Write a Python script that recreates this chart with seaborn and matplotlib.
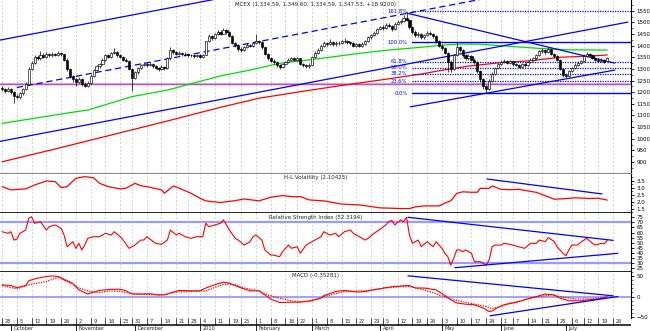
import numpy as np
import pandas as pd
import matplotlib
matplotlib.use("Agg")
import matplotlib.pyplot as plt
import seaborn as sns

sns.set_theme(style="white", context="paper")
plt.rcParams["font.family"] = ["DejaVu Sans"]

# ---------------- trading calendar ----------------
holidays = pd.to_datetime(["2009-11-26", "2009-12-25", "2010-01-01", "2010-01-18",
                           "2010-02-15", "2010-04-02", "2010-05-31", "2010-07-05"])
calendar = pd.bdate_range("2009-09-28", "2010-07-30")
calendar = calendar[~calendar.isin(holidays)]

# ---------------- daily OHLC ----------------
opens = [
    1218, 1212, 1205, 1215, 1200, 1185, 1178, 1195, 1215, 1235,
    1300, 1325, 1350, 1345, 1360, 1352, 1365, 1358, 1366, 1360,
    1368, 1362, 1340, 1300, 1268, 1255, 1245, 1258, 1235, 1228,
    1240, 1270, 1295, 1312, 1320, 1340, 1358, 1350, 1368, 1372,
    1358, 1352, 1340, 1336, 1300, 1262, 1285, 1305, 1316, 1322,
    1318, 1322, 1312, 1305, 1298, 1310, 1302, 1345, 1382, 1372,
    1366, 1370, 1362, 1366, 1358, 1360, 1354, 1358, 1350, 1360,
    1418, 1440, 1432, 1448, 1460, 1452, 1466, 1458, 1440, 1412,
    1402, 1386, 1380, 1395, 1404, 1398, 1410, 1420, 1414, 1392,
    1366, 1346, 1336, 1330, 1318, 1310, 1320, 1330, 1340, 1346,
    1338, 1345, 1322, 1315, 1312, 1318, 1350, 1370, 1382, 1400,
    1410, 1406, 1415, 1405, 1412, 1410, 1418, 1420, 1414, 1410,
    1400, 1405, 1400, 1408, 1420, 1435, 1445, 1455, 1470, 1480,
    1475, 1490, 1485, 1470, 1495, 1500, 1505, 1520, 1512, 1480,
    1460, 1445, 1450, 1435, 1445, 1455, 1450, 1440, 1420, 1400,
    1390, 1370, 1330, 1300, 1360, 1395, 1380, 1360, 1345, 1355,
    1340, 1330, 1290, 1255, 1225, 1215, 1250, 1280, 1305, 1320,
    1330, 1335, 1325, 1332, 1320, 1318, 1310, 1320, 1315, 1330,
    1340, 1345, 1360, 1375, 1380, 1372, 1385, 1365, 1355, 1340,
    1300, 1275, 1270, 1290, 1305, 1318, 1325, 1335, 1355, 1362,
    1360, 1348, 1340, 1335, 1340, 1334.59]
highs = [
    1225, 1218, 1222, 1220, 1204, 1192, 1200, 1220, 1242, 1310,
    1335, 1360, 1358, 1375, 1368, 1372, 1370, 1374, 1370, 1375,
    1372, 1366, 1345, 1305, 1275, 1262, 1265, 1262, 1242, 1248,
    1276, 1300, 1318, 1326, 1346, 1362, 1365, 1374, 1388, 1378,
    1362, 1356, 1345, 1340, 1305, 1292, 1310, 1322, 1328, 1330,
    1328, 1326, 1316, 1310, 1315, 1314, 1350, 1395, 1386, 1378,
    1376, 1374, 1372, 1370, 1366, 1364, 1363, 1362, 1366, 1422,
    1448, 1446, 1455, 1468, 1465, 1475, 1470, 1462, 1444, 1416,
    1406, 1392, 1400, 1410, 1408, 1416, 1452, 1425, 1418, 1396,
    1370, 1352, 1342, 1334, 1322, 1326, 1336, 1346, 1352, 1350,
    1352, 1348, 1326, 1320, 1324, 1355, 1376, 1388, 1406, 1418,
    1416, 1430, 1420, 1418, 1418, 1424, 1432, 1425, 1420, 1414,
    1410, 1410, 1414, 1426, 1440, 1450, 1462, 1476, 1486, 1488,
    1496, 1498, 1490, 1500, 1508, 1512, 1530, 1545, 1516, 1484,
    1465, 1458, 1455, 1452, 1462, 1462, 1455, 1444, 1425, 1406,
    1394, 1374, 1340, 1366, 1415, 1400, 1385, 1364, 1362, 1360,
    1345, 1334, 1295, 1260, 1232, 1256, 1286, 1310, 1326, 1338,
    1342, 1340, 1338, 1336, 1326, 1322, 1326, 1324, 1336, 1346,
    1350, 1366, 1382, 1388, 1386, 1395, 1388, 1370, 1358, 1344,
    1305, 1282, 1295, 1310, 1324, 1332, 1340, 1360, 1372, 1368,
    1364, 1352, 1345, 1346, 1344, 1349.60]
lows = [
    1205, 1198, 1200, 1192, 1153, 1170, 1172, 1190, 1210, 1230,
    1295, 1320, 1338, 1340, 1345, 1348, 1350, 1352, 1355, 1355,
    1355, 1335, 1292, 1260, 1245, 1225, 1238, 1225, 1222, 1222,
    1236, 1265, 1290, 1305, 1315, 1335, 1345, 1346, 1362, 1352,
    1345, 1335, 1330, 1295, 1205, 1255, 1280, 1300, 1312, 1310,
    1312, 1305, 1298, 1290, 1294, 1296, 1300, 1340, 1366, 1360,
    1360, 1356, 1357, 1352, 1352, 1348, 1349, 1345, 1346, 1358,
    1414, 1426, 1428, 1444, 1446, 1448, 1452, 1435, 1405, 1395,
    1378, 1372, 1376, 1390, 1392, 1394, 1406, 1408, 1385, 1360,
    1340, 1330, 1322, 1310, 1300, 1305, 1315, 1325, 1336, 1332,
    1334, 1316, 1308, 1305, 1306, 1315, 1346, 1366, 1378, 1396,
    1400, 1402, 1400, 1400, 1404, 1405, 1412, 1408, 1404, 1394,
    1395, 1394, 1396, 1404, 1416, 1430, 1440, 1450, 1465, 1468,
    1470, 1478, 1464, 1466, 1490, 1495, 1500, 1505, 1472, 1452,
    1438, 1438, 1428, 1430, 1440, 1444, 1434, 1412, 1392, 1380,
    1362, 1285, 1288, 1296, 1355, 1372, 1352, 1338, 1340, 1332,
    1322, 1282, 1245, 1215, 1195, 1210, 1245, 1275, 1300, 1315,
    1325, 1320, 1320, 1314, 1312, 1304, 1305, 1308, 1312, 1326,
    1335, 1340, 1356, 1370, 1366, 1368, 1360, 1348, 1334, 1294,
    1265, 1262, 1266, 1286, 1300, 1314, 1320, 1330, 1350, 1354,
    1342, 1334, 1328, 1330, 1325, 1334.59]
closes = [
    1212, 1205, 1215, 1200, 1185, 1178, 1195, 1215, 1235, 1300,
    1325, 1350, 1345, 1360, 1352, 1365, 1358, 1366, 1360, 1368,
    1362, 1340, 1300, 1268, 1255, 1245, 1258, 1235, 1228, 1240,
    1270, 1295, 1312, 1320, 1340, 1358, 1350, 1368, 1372, 1358,
    1352, 1340, 1336, 1300, 1262, 1285, 1305, 1316, 1322, 1318,
    1322, 1312, 1305, 1298, 1310, 1302, 1345, 1382, 1372, 1366,
    1370, 1362, 1366, 1358, 1360, 1354, 1358, 1350, 1360, 1418,
    1440, 1432, 1448, 1460, 1452, 1466, 1458, 1440, 1412, 1402,
    1386, 1380, 1395, 1404, 1398, 1410, 1420, 1414, 1392, 1366,
    1346, 1336, 1330, 1318, 1310, 1320, 1330, 1340, 1346, 1338,
    1345, 1322, 1315, 1312, 1318, 1350, 1370, 1382, 1400, 1410,
    1406, 1415, 1405, 1412, 1410, 1418, 1420, 1414, 1410, 1400,
    1405, 1400, 1408, 1420, 1435, 1445, 1455, 1470, 1480, 1475,
    1490, 1485, 1470, 1495, 1500, 1505, 1520, 1512, 1480, 1460,
    1445, 1450, 1435, 1445, 1455, 1450, 1440, 1420, 1400, 1390,
    1370, 1330, 1300, 1360, 1395, 1380, 1360, 1345, 1355, 1340,
    1330, 1290, 1255, 1225, 1215, 1250, 1280, 1305, 1320, 1330,
    1335, 1325, 1332, 1320, 1318, 1310, 1320, 1315, 1330, 1340,
    1345, 1360, 1375, 1380, 1372, 1385, 1365, 1355, 1340, 1300,
    1275, 1270, 1290, 1305, 1318, 1325, 1335, 1355, 1362, 1360,
    1348, 1340, 1335, 1340, 1328.61, 1347.53]

# ---------------- moving averages (bar index, value) ----------------
ma_fast_idx = [0, 25, 29, 44, 56, 74, 84, 94, 101, 111, 121, 131, 142, 148, 155, 162, 172, 182, 192, 205]
ma_fast_val = [1066, 1116, 1123, 1181, 1209, 1270, 1295, 1324, 1334, 1350, 1367, 1381, 1393, 1401, 1407, 1406,
               1397, 1388, 1382, 1381]
ma_slow_idx = [0, 18, 37, 55, 74, 87, 101, 114, 128, 142, 148, 158, 169, 179, 189, 199, 205]
ma_slow_val = [901, 956, 1016, 1073, 1135, 1174, 1202, 1227, 1252, 1278, 1292, 1312, 1327, 1335, 1350, 1355, 1360]

# ---------------- H-L volatility ----------------
vol_idx = [0, 3, 8, 11, 15, 18, 20, 22, 25, 28, 31, 33, 36, 40, 42, 45, 47, 50, 54, 55, 58, 60, 64, 67, 69,
           74, 79, 82, 87, 91, 95, 99, 101, 104, 109, 115, 121, 128, 135, 138, 140, 143, 148, 151, 152, 154,
           156, 159, 161, 162, 165, 166, 169, 172, 175, 181, 185, 187, 190, 194, 199, 202, 205]
vol_val = [3.07, 2.84, 2.91, 3.19, 3.48, 3.43, 3.00, 3.07, 3.67, 3.79, 3.71, 3.31, 3.07, 2.91, 2.96, 3.31,
           3.14, 3.03, 2.84, 2.60, 3.12, 2.96, 2.60, 2.24, 2.05, 1.93, 2.07, 2.19, 2.05, 2.31, 2.43, 2.34,
           2.36, 2.12, 2.05, 1.82, 1.76, 1.55, 1.50, 1.50, 1.62, 1.69, 1.69, 1.98, 2.05, 2.59, 2.70, 2.67,
           2.67, 2.95, 2.95, 3.12, 2.88, 2.85, 2.88, 2.66, 2.34, 2.17, 2.20, 2.27, 2.22, 2.24, 2.10425]

# ---------------- RSI ----------------
rsi_idx = [0, 2, 3, 4, 5, 6, 8, 9, 10, 11, 13, 15, 16, 18, 20, 21, 22, 24, 25, 26, 27, 28, 29, 31, 33, 35,
           37, 38, 40, 41, 43, 45, 47, 48, 49, 52, 54, 56, 57, 59, 60, 62, 64, 66, 68, 69, 70, 72, 74, 75,
           77, 79, 80, 82, 84, 85, 86, 88, 89, 91, 92, 94, 95, 97, 98, 100, 101, 103, 106, 108, 109, 111,
           113, 114, 116, 118, 119, 121, 123, 124, 126, 128, 130, 131, 132, 133, 135, 136, 137, 138, 139,
           141, 142, 144, 146, 147, 149, 150, 151, 152, 153, 154, 155, 156, 157, 159, 160, 162, 164, 165,
           166, 167, 169, 170, 172, 175, 177, 179, 181, 182, 184, 185, 187, 188, 190, 191, 192, 193, 195,
           196, 198, 200, 201, 203, 204, 205]
rsi_val = [60.9, 59.3, 60.9, 52.7, 53.5, 59.3, 62.5, 74.0, 75.6, 69.1, 70.7, 62.5, 65.8, 67.5, 64.2, 57.6,
           46.2, 51.1, 44.6, 49.5, 43.0, 47.8, 54.4, 56.0, 56.0, 59.3, 57.6, 60.9, 56.0, 52.7, 44.6, 47.8,
           52.7, 52.7, 56.0, 49.5, 48.5, 52.7, 62.5, 57.6, 59.3, 56.0, 54.4, 56.0, 56.0, 69.1, 65.8, 67.5,
           69.1, 72.4, 62.5, 54.4, 52.7, 47.8, 51.1, 56.0, 57.6, 52.7, 43.0, 38.1, 37.9, 36.4, 41.3, 47.8,
           44.6, 46.2, 39.7, 47.8, 52.7, 56.0, 60.9, 57.6, 59.3, 56.0, 60.9, 62.5, 59.3, 56.0, 52.7, 54.4,
           59.3, 63.2, 67.5, 70.7, 72.0, 67.5, 72.4, 70.7, 75.0, 57.6, 49.5, 52.7, 46.2, 51.1, 46.2, 51.1,
           44.6, 39.7, 36.4, 28.2, 34.8, 43.0, 43.0, 41.3, 43.0, 39.7, 31.5, 31.5, 28.2, 33.1, 46.2, 47.8,
           47.8, 49.5, 48.5, 46.2, 44.6, 49.5, 49.5, 52.7, 51.1, 55.0, 51.5, 46.2, 39.7, 37.3, 43.0, 47.8,
           47.8, 50.5, 54.4, 49.5, 47.8, 49.5, 49.0, 52.3194]

# ---------------- MACD ----------------
macd_idx = [0, 3, 5, 8, 9, 12, 15, 17, 19, 21, 24, 26, 29, 30, 33, 37, 40, 42, 44, 47, 50, 53, 55, 58, 60,
            64, 67, 69, 72, 75, 77, 81, 84, 87, 89, 91, 94, 98, 101, 104, 108, 109, 113, 116, 120, 123, 126,
            130, 133, 137, 138, 140, 143, 147, 150, 152, 154, 157, 160, 163, 165, 166, 168, 170, 174, 177,
            181, 184, 187, 189, 192, 196, 199, 202, 205]
macd_val = [29, 27, 22, 27, 39, 45.5, 49.5, 51, 49.5, 41, 31, 16.6, 6, 8.4, 15, 18, 18, 14, 6, 6, 7, 4, 4,
            11, 15, 14, 14, 21, 29, 35.6, 33, 21, 14, 14, 4, -6.6, -14.8, -14, -14, -11, -4, 2, 12.4, 15,
            11, 12.4, 16.6, 22, 24.8, 27, 27, 21, 21, 16.6, 2.5, -8, -16, -19, -20.5, -28.7, -37, -36, -27,
            -20.5, -14.8, -8, 0, 6, 4, -4, -10.6, -10.6, -8, -6, -0.35281]
signal_idx = [0, 5, 9, 15, 18, 20, 23, 26, 30, 33, 37, 40, 43, 47, 52, 55, 59, 64, 69, 72, 75, 79, 82, 87,
              90, 94, 98, 101, 104, 108, 109, 116, 123, 130, 135, 138, 143, 148, 153, 158, 164, 166, 169,
              172, 175, 179, 182, 186, 189, 194, 199, 204]
signal_val = [27, 19, 29, 37, 45.5, 47, 37, 21, 12.4, 10, 14, 12.4, 8.4, 6, 4, 5, 11, 12.4, 14, 22, 30.7,
              29, 21, 14, 4, -4, -11, -12.4, -12.4, -4, 0, 12.4, 14, 21, 24.8, 24.8, 16.6, 4, -8, -16,
              -24.8, -30, -24.8, -16, -12.4, -4, 0, 4, 0, -6, -6, -2]

# ---------------- drawn studies ----------------
channel_x = [-1, 212]
channel_low = [988, 1501]
channel_high = [1423, 1936]
channel_mid_x = [5, 212]
channel_mid = [1220, 1719]
peak_line_x = [137, 207.5]
peak_line = [1540, 1325]
low_line_x = [138.3, 207.6]
low_line = [1137, 1295]
fib_start = 138.8
fib_low, fib_high = 1196, 1414
fib_ratios = [0.0, 0.236, 0.382, 0.5, 0.618, 1.0, 1.618]
fib_labels = ["0.0%", "23.6%", "38.2%", "50.0%", "61.8%", "100.0%", "161.8%"]
support_level = 1236
vol_trend_x = [164.3, 203.2]
vol_trend = [3.62, 2.55]
rsi_upper_x, rsi_upper = [137.5, 207.0], [75.0, 52.4]
rsi_lower_x, rsi_lower = [153.4, 208.6], [25.6, 39.7]
macd_upper_x, macd_upper = [137.5, 207.0], [51.2, 1.7]
macd_lower_x, macd_lower = [165.3, 208.6], [-47.8, 0.0]

BLUE = "#0000ff"
RED = "#ff0000"
LIGHT_BLUE = "#9a9aff"

# ---------------- figure & panels ----------------
W, H = 650, 331
fig = plt.figure(figsize=(W / 100, H / 100), dpi=100)
fig.patch.set_facecolor("white")


def panel(top_px, bot_px):
    return fig.add_axes([0, 1 - bot_px / H, 631 / W, (bot_px - top_px) / H])


ax_p = panel(0, 174)
ax_v = panel(174, 213)
ax_r = panel(213, 271.5)
ax_m = panel(271.5, 318)
ax_d = panel(318, 331)

x_lo, x_hi = -0.71, 213.05
n = len(closes)
dates = calendar[:n]

# weekly and monthly positions on the bar axis
week_pos, week_lab = [], []
prev_week = None
for k, d in enumerate(calendar):
    wk = d.isocalendar()[1]
    if wk != prev_week:
        week_pos.append(k)
        week_lab.append(str(d.day))
        prev_week = wk
month_pos, month_lab = [], []
prev_month = None
for k, d in enumerate(calendar):
    if d.month != prev_month:
        if k > 0 or d.day == 1:
            month_pos.append(k)
            month_lab.append("2010" if d.month == 1 else d.strftime("%B"))
        prev_month = d.month
week_pos = [p for p in week_pos if p <= x_hi]
week_lab = week_lab[:len(week_pos)]

for ax in (ax_p, ax_v, ax_r, ax_m, ax_d):
    ax.set_xlim(x_lo, x_hi)
    ax.set_facecolor("white")
    for s in ax.spines.values():
        s.set_visible(False)
    ax.set_xticks([])

for ax in (ax_p, ax_v, ax_r, ax_m):
    for p in week_pos:
        ax.axvline(p, color="#c4c4c4", lw=0.55, ls=(0, (2.5, 2.5)), zorder=0)
    ax.spines["right"].set_visible(True)
    ax.spines["right"].set_color("black")
    ax.spines["right"].set_linewidth(0.8)
    ax.yaxis.tick_right()
    ax.tick_params(axis="y", which="major", direction="out", length=2.5, width=0.6,
                   labelsize=4, pad=1.5, colors="black", right=True, left=False)
    ax.tick_params(axis="y", which="minor", direction="out", length=1.5, width=0.5,
                   right=True, left=False)

# ---------------- price panel ----------------
ax_p.set_ylim(848.5, 1596)
ax_p.set_yticks(np.arange(900, 1551, 50))
ax_p.set_yticks(np.arange(875, 1596, 25), minor=True)
ax_p.spines["bottom"].set_visible(True)
ax_p.spines["bottom"].set_color("#8a8a8a")
ax_p.spines["bottom"].set_linewidth(1.6)

ax_p.axhline(support_level + 3.5, color="#c8c8c8", lw=0.9, zorder=1)
ax_p.axhline(support_level, color="#cc44cc", lw=1.0, zorder=1)

sns.lineplot(x=ma_slow_idx, y=ma_slow_val, ax=ax_p, color=RED, lw=0.9, zorder=2)
sns.lineplot(x=ma_fast_idx, y=ma_fast_val, ax=ax_p, color="#00dd00", lw=0.9, zorder=2)

ax_p.plot(channel_x, channel_high, color=BLUE, lw=0.9, zorder=2)
ax_p.plot(channel_x, channel_low, color=BLUE, lw=0.9, zorder=2)
ax_p.plot(channel_mid_x, channel_mid, color=BLUE, lw=0.9, ls=(0, (5, 3)), zorder=2)
ax_p.plot(peak_line_x, peak_line, color=BLUE, lw=0.9, zorder=2)
ax_p.plot(low_line_x, low_line, color=BLUE, lw=0.9, zorder=2)

for r, lab in zip(fib_ratios, fib_labels):
    lvl = fib_low + r * (fib_high - fib_low)
    solid = r in (0.0, 1.0)
    ax_p.plot([fib_start, x_hi], [lvl, lvl], color=BLUE, lw=1.0 if solid else 0.9,
              ls="-" if solid else (0, (1, 1)), zorder=2)
    ax_p.text(fib_start - 1.5, lvl, lab, color=BLUE, fontsize=3.8, ha="right", va="center", zorder=5)

o = np.array(opens, dtype=float)
c = np.array(closes, dtype=float)
hi = np.array(highs, dtype=float)
lo = np.array(lows, dtype=float)
pos = np.arange(n)
rising = c >= o
ax_p.vlines(pos, lo, hi, color="black", lw=0.5, zorder=3)
body_bottom = np.minimum(o, c)
body_h = np.maximum(np.abs(c - o), 1.5)
ax_p.bar(pos[rising], body_h[rising], bottom=body_bottom[rising], width=0.72,
         facecolor="white", edgecolor="black", linewidth=0.45, zorder=4)
ax_p.bar(pos[~rising], body_h[~rising], bottom=body_bottom[~rising], width=0.72,
         facecolor="black", edgecolor="black", linewidth=0.45, zorder=4)

title = "MCEX ({:,.2f}, {:,.2f}, {:,.2f}, {:,.2f}, +18.9200)".format(opens[-1], highs[-1], lows[-1], closes[-1])
ax_p.text(0.5, 0.977, title, transform=ax_p.transAxes, fontsize=4, ha="center", va="center")

# ---------------- H-L volatility panel ----------------
ax_v.set_ylim(1.18, 3.98)
ax_v.set_yticks([1.5, 2.0, 2.5, 3.0, 3.5])
ax_v.set_yticklabels(["1.5", "2.0", "2.5", "3.0", "3.5"])
ax_v.set_yticks(np.arange(1.25, 3.9, 0.25), minor=True)
ax_v.spines["bottom"].set_visible(True)
ax_v.spines["bottom"].set_color("black")
ax_v.spines["bottom"].set_linewidth(1.2)
sns.lineplot(x=vol_idx, y=vol_val, ax=ax_v, color=RED, lw=0.9, zorder=3)
ax_v.plot(vol_trend_x, vol_trend, color=BLUE, lw=0.9, zorder=3)
ax_v.text(0.5, 0.9, "H-L Volatility (2.10425)", transform=ax_v.transAxes, fontsize=4,
          ha="center", va="center")

# ---------------- RSI panel ----------------
ax_r.set_ylim(21.9, 79.2)
ax_r.set_yticks(np.arange(25, 76, 5))
ax_r.spines["bottom"].set_visible(True)
ax_r.spines["bottom"].set_color("black")
ax_r.spines["bottom"].set_linewidth(1.2)
ax_r.axhline(70, color=LIGHT_BLUE, lw=1.6, zorder=1)
ax_r.axhline(30, color=LIGHT_BLUE, lw=1.6, zorder=1)
sns.lineplot(x=rsi_idx, y=rsi_val, ax=ax_r, color=RED, lw=0.8, zorder=3)
ax_r.plot(rsi_upper_x, rsi_upper, color=BLUE, lw=0.9, zorder=3)
ax_r.plot(rsi_lower_x, rsi_lower, color=BLUE, lw=0.9, zorder=3)
ax_r.text(0.5, 0.93, "Relative Strength Index (52.3194)", transform=ax_r.transAxes, fontsize=4,
          ha="center", va="center")

# ---------------- MACD panel ----------------
ax_m.set_ylim(-53.2, 61.9)
ax_m.set_yticks([-50, 0, 50])
ax_m.set_yticks(np.arange(-50, 61, 10), minor=True)
ax_m.axhline(0, color=LIGHT_BLUE, lw=1.3, zorder=1)
sns.lineplot(x=macd_idx, y=macd_val, ax=ax_m, color=RED, lw=0.8, zorder=3)
sns.lineplot(x=signal_idx, y=signal_val, ax=ax_m, color=RED, lw=0.9, ls=(0, (1, 1)), zorder=3)
ax_m.plot(macd_upper_x, macd_upper, color=BLUE, lw=0.9, zorder=3)
ax_m.plot(macd_lower_x, macd_lower, color=BLUE, lw=0.9, zorder=3)
ax_m.text(0.5, 0.915, "MACD (-0.35281)", transform=ax_m.transAxes, fontsize=4,
          ha="center", va="center")

for ax in (ax_p, ax_v, ax_r, ax_m):
    ax.set_xlabel("")
    ax.set_ylabel("")

# ---------------- date strip ----------------
ax_d.set_ylim(0, 1)
ax_d.set_yticks([])
base = 0.44
ax_d.axhline(base, color="black", lw=1.1)
for p, lab in zip(week_pos, week_lab):
    ax_d.plot([p, p], [base, 1.0], color="black", lw=0.5)
    ax_d.text(p + 0.9, 0.72, lab, fontsize=3.6, ha="left", va="center")
for p, lab in zip(month_pos, month_lab):
    ax_d.plot([p, p], [0.0, base], color="black", lw=0.6)
    ax_d.text(p + 0.9, 0.2, lab, fontsize=3.6, ha="left", va="center")

fig.savefig("out.png", dpi=100, facecolor="white")
